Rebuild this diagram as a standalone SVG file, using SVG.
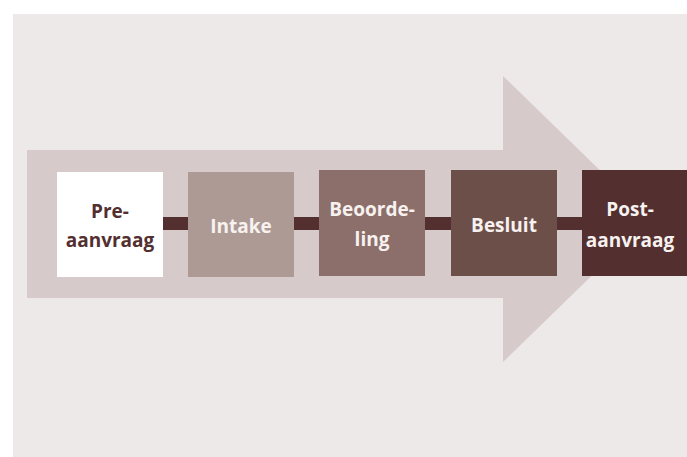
<svg xmlns="http://www.w3.org/2000/svg" width="687" height="457" viewBox="0 0 687 457">
<style>
.lbl{font-family:"Open Sans","Liberation Sans",sans-serif;font-weight:700;font-size:19px;text-anchor:middle}
.dark{fill:#532f2f}
.light{fill:#f7f2f0}
.conn{fill:#532f2f}
</style>
<rect x="0" y="0" width="687" height="457" fill="#ffffff"/>
<rect x="13" y="14" width="674" height="443" fill="#ede9e8"/>
<polygon points="27,150 503,150 503,76 650,219 503,362 503,298 27,298" fill="#d6cbca"/>
<g id="connectors">
<rect class="conn" x="162" y="217" width="27" height="13"/>
<rect class="conn" x="293" y="217" width="27" height="13"/>
<rect class="conn" x="424" y="217" width="28" height="13"/>
<rect class="conn" x="556" y="217" width="27" height="13"/>
</g>
<g id="pre-aanvraag">
<rect x="57" y="172" width="106" height="105" fill="#ffffff"/>
<text class="lbl dark" x="110" y="218">Pre-</text>
<text class="lbl dark" x="110" y="247">aanvraag</text>
</g>
<g id="intake">
<rect x="188" y="172" width="106" height="105" fill="#ae9a94"/>
<text class="lbl light" x="241" y="233">Intake</text>
</g>
<g id="beoordeling">
<rect x="319" y="170" width="106" height="106" fill="#8c6f6a"/>
<text class="lbl light" x="372" y="216">Beoorde-</text>
<text class="lbl light" x="372" y="246">ling</text>
</g>
<g id="besluit">
<rect x="451" y="170" width="106" height="106" fill="#6d4f4a"/>
<text class="lbl light" x="504" y="232">Besluit</text>
</g>
<g id="post-aanvraag">
<rect x="582" y="170" width="106" height="106" fill="#532f2f"/>
<text class="lbl light" x="630" y="216">Post-</text>
<text class="lbl light" x="630" y="247">aanvraag</text>
</g>
</svg>
